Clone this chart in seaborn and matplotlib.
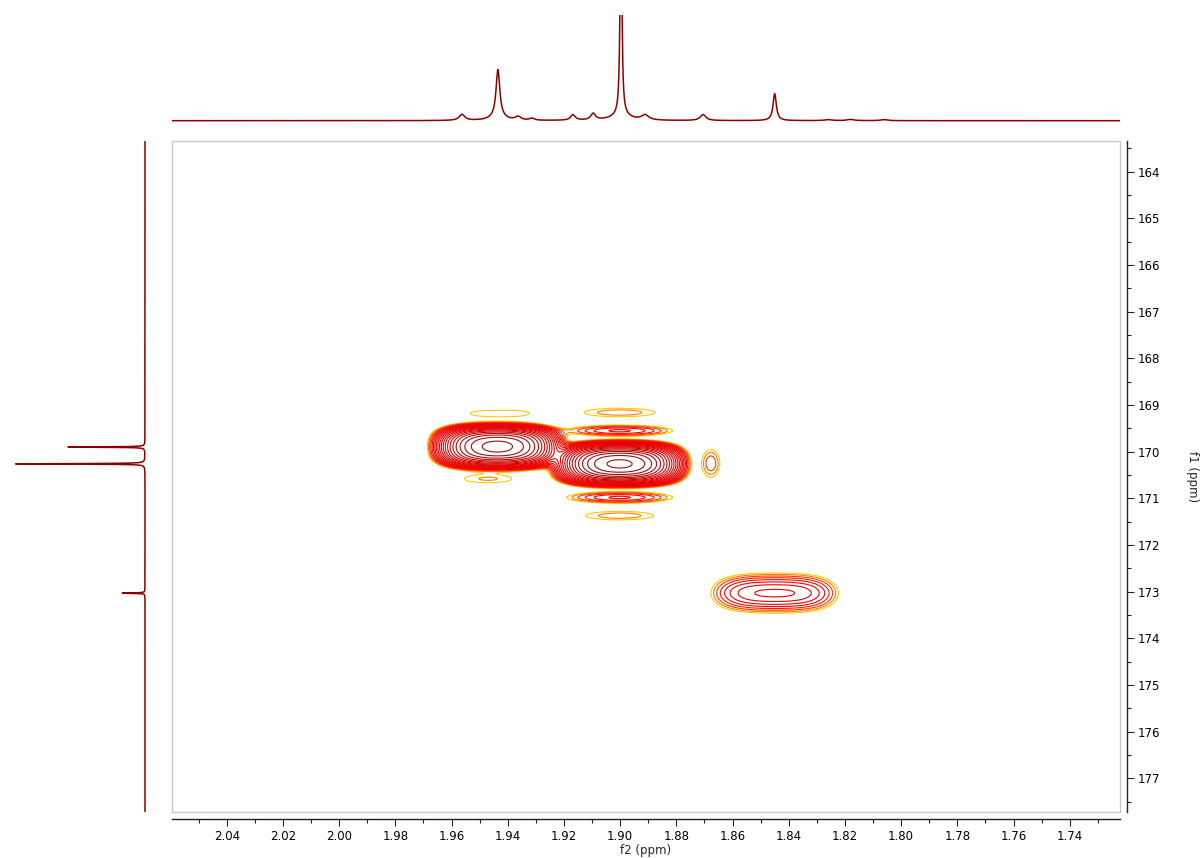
import numpy as np
import matplotlib
matplotlib.use("Agg")
import matplotlib.pyplot as plt
from matplotlib.colors import LinearSegmentedColormap
from matplotlib.patches import Rectangle
from matplotlib.ticker import MultipleLocator, FormatStrFormatter
import seaborn as sns

# --- 2D cross peaks: position (f2, f1), core widths, flat-top edges, height ---
peak_f2 = [1.9437, 1.9002, 1.8450, 1.9002, 1.9002, 1.9002, 1.9002, 1.9440, 1.9470, 1.8677]
peak_f1 = [169.89, 170.26, 173.03, 169.55, 169.16, 170.98, 171.37, 169.18, 170.58, 170.25]
peak_wf2 = [0.0178, 0.0180, 0.0327, 0.0175, 0.021, 0.0175, 0.020, 0.0356, 0.0164, 0.004]
peak_ef2 = [0.0196, 0.0198, 0.0220, 1.0, 1.0, 1.0, 1.0, 0.0178, 1.0, 1.0]
peak_wf1 = [0.386, 0.356, 0.338, 0.11, 0.15, 0.115, 0.15, 0.17, 0.168, 0.37]
peak_ef1 = [0.409, 0.415, 5.0, 5.0, 5.0, 5.0, 5.0, 5.0, 5.0, 5.0]
peak_height = [95.6, 115.6, 5.05, 3.2, 1.44, 3.2, 1.44, 1.15, 1.3, 1.875]

# --- 1H projection (top): shift, height, half width ---
top_shift = [1.9563, 1.9435, 1.9435, 1.9363, 1.9314, 1.9168, 1.9096, 1.8997, 1.8997,
             1.8911, 1.8705, 1.8450, 1.8260, 1.8180, 1.8060]
top_height = [6.0, 48.0, 3.0, 3.5, 2.0, 5.5, 6.5, 300.0, 5.0, 5.0, 6.0, 27.0, 1.0, 1.2, 1.0]
top_hw = [0.0012, 0.0008, 0.003, 0.0012, 0.001, 0.001, 0.001, 0.0003, 0.004,
          0.0015, 0.0012, 0.0007, 0.0015, 0.0015, 0.0015]

# --- 13C projection (left): shift, height, half width ---
left_shift = [169.90, 170.26, 173.03]
left_height = [77.0, 132.0, 23.0]
left_hw = [0.006, 0.006, 0.006]

# --- level scheme ---
base_level = 1.0
level_step = 1.25
n_levels = 22

F2_LIM = (2.0595, 1.7221)
F1_LIM = (177.72, 163.342)
TRACE = "#8b0000"
AXIS_COL = "#222222"

sns.set_style("white")
plt.rcParams["font.family"] = ["DejaVu Sans"]
plt.rcParams["text.color"] = "black"
plt.rcParams["xtick.color"] = AXIS_COL
plt.rcParams["ytick.color"] = AXIS_COL

fig = plt.figure(figsize=(12.02, 8.58), dpi=100)
W, H = 1202, 858


def frac(x0, y0, x1, y1):
    return [x0 / W, 1 - y1 / H, (x1 - x0) / W, (y1 - y0) / H]


ax = fig.add_axes(frac(172, 141, 1120, 812))
ax_top = fig.add_axes(frac(172, 15, 1120, 124))
ax_left = fig.add_axes(frac(10, 141, 148, 812))

# --- 2D surface ---
f2 = np.linspace(F2_LIM[0], F2_LIM[1], 1100)
f1 = np.linspace(163.3, 177.8, 1600)
X, Y = np.meshgrid(f2, f1)
Z = np.zeros_like(X)
for x0, y0, wx, ex, wy, ey, h in zip(peak_f2, peak_f1, peak_wf2, peak_ef2,
                                     peak_wf1, peak_ef1, peak_height):
    dx = X - x0
    dy = Y - y0
    u = (dx / wx) ** 2 + (dx / ex) ** 4 + (dy / wy) ** 2 + (dy / ey) ** 4
    Z += h * np.exp(-np.minimum(u, 50))

levels = base_level * level_step ** np.arange(n_levels)
cmap = LinearSegmentedColormap.from_list(
    "nmr", [(0, "#ffc800"), (0.1, "#ff3000"), (0.2, "#f00000"), (0.65, "#e00000"),
            (1, "#8a1414")])
colors = [cmap(i / (n_levels - 1)) for i in range(n_levels)]
ax.contour(X, Y, Z, levels=levels, colors=colors, linewidths=0.8)

ax.set_xlim(*F2_LIM)
ax.set_ylim(*F1_LIM)
ax.add_patch(Rectangle((0, 0), 1, 1, transform=ax.transAxes, fill=False,
                       edgecolor="#c8c8c8", lw=1.0, zorder=5, clip_on=False))
for s in ["top", "left"]:
    ax.spines[s].set_visible(False)
for s in ["bottom", "right"]:
    ax.spines[s].set_position(("outward", 5))
    ax.spines[s].set_color(AXIS_COL)
    ax.spines[s].set_linewidth(1.0)

ax.yaxis.tick_right()
ax.yaxis.set_label_position("right")
ax.xaxis.set_major_locator(MultipleLocator(0.02))
ax.xaxis.set_minor_locator(MultipleLocator(0.01))
ax.xaxis.set_major_formatter(FormatStrFormatter("%.2f"))
ax.yaxis.set_major_locator(MultipleLocator(1))
ax.yaxis.set_minor_locator(MultipleLocator(0.5))
ax.yaxis.set_major_formatter(FormatStrFormatter("%d"))
ax.tick_params(axis="both", which="major", direction="out", length=5, width=0.8,
               labelsize=8.5, labelcolor="black", pad=3, bottom=True, right=True,
               left=False, top=False)
ax.tick_params(axis="both", which="minor", direction="out", length=3, width=0.8,
               bottom=True, right=True, left=False, top=False)
ax.set_xlabel("f2 (ppm)", fontsize=8.5, labelpad=1)
ax.set_ylabel("f1 (ppm)", fontsize=8.5, rotation=270, labelpad=28)

# --- top projection ---
x_top = np.linspace(F2_LIM[0], F2_LIM[1], 6000)
y_top = np.zeros_like(x_top)
for c, h, w in zip(top_shift, top_height, top_hw):
    y_top += h / (1 + ((x_top - c) / w) ** 2)
sns.lineplot(x=x_top, y=y_top, ax=ax_top, color=TRACE, lw=1.1, estimator=None, sort=False)
ax_top.set_xlim(*F2_LIM)
ax_top.set_ylim(-3.3, 105.7)
ax_top.axis("off")

# --- left projection ---
y_left = np.linspace(163.3, 177.8, 8000)
x_left = np.zeros_like(y_left)
for c, h, w in zip(left_shift, left_height, left_hw):
    x_left += h / (1 + ((y_left - c) / w) ** 2)
sns.lineplot(x=x_left, y=y_left, ax=ax_left, color=TRACE, lw=1.1, estimator=None,
             sort=False, orient="y")
ax_left.set_xlim(135, -3)
ax_left.set_ylim(*F1_LIM)
ax_left.axis("off")

fig.savefig("out.png", dpi=100)
